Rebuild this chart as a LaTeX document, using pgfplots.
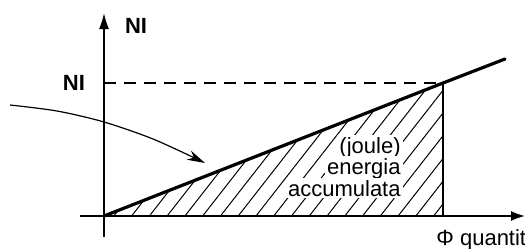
\documentclass[border=0pt]{standalone}
\usepackage{pgfplots}
\pgfplotsset{compat=1.18}
\usepackage{fontspec}
\setmainfont{Liberation Sans}
\usetikzlibrary{arrows.meta,patterns.meta}
\begin{document}
\begin{tikzpicture}
\begin{axis}[
  x=0.5pt,y=0.5pt,
  xmin=-104,xmax=421,ymin=-32,ymax=216,
  axis lines=none, clip=false,
  font=\fontsize{11}{13}\selectfont,
]
% hatched triangle
\addplot[draw=none, pattern={Lines[angle=52,distance=7pt,line width=0.5pt]}] coordinates {(0,0) (339,133) (339,0) (0,0)} \closedcycle;
% axes
\addplot[line width=0.8pt, -{Latex[length=7pt,width=5pt]}] coordinates {(-24,0) (421,0)};
\addplot[line width=0.8pt, -{Latex[length=8pt,width=5pt]}] coordinates {(0,-21) (0,203)};
% dashed level
\addplot[line width=0.6pt, dash pattern=on 6pt off 4pt] coordinates {(0,133) (339,133)};
% vertical
\addplot[line width=1.2pt] coordinates {(339,0) (339,133)};
% main line
\addplot[line width=1.6pt, line cap=round] coordinates {(0,0) (339,133) (401,157)};
% curved arrow
\addplot[line width=0.6pt, smooth, -{Stealth[length=9pt,width=5pt]}] coordinates {(-94,111) (-47,105) (0,94) (50,76.6) (101,53)};
% text
\node[anchor=base east, fill=white, inner sep=1pt] at (axis cs:299,63) {(joule)};
\node[anchor=base east, fill=white, inner sep=1pt] at (axis cs:299,42) {energia};
\node[anchor=base east, fill=white, inner sep=1pt] at (axis cs:299,20) {accumulata};
\node[anchor=west, font=\bfseries\fontsize{11}{13}\selectfont] at (axis cs:14,190) {NI};
\node[anchor=east, font=\bfseries\fontsize{11}{13}\selectfont] at (axis cs:-12,133) {NI};
\node[anchor=base west, inner sep=0pt] at (axis cs:332,-29) {Φ quantità};
\coordinate (bl) at (axis cs:-104,-32);
\coordinate (tr) at (axis cs:421,216);
\end{axis}
\pgfresetboundingbox
\path[use as bounding box] (bl) rectangle (tr);
\end{tikzpicture}
\end{document}
